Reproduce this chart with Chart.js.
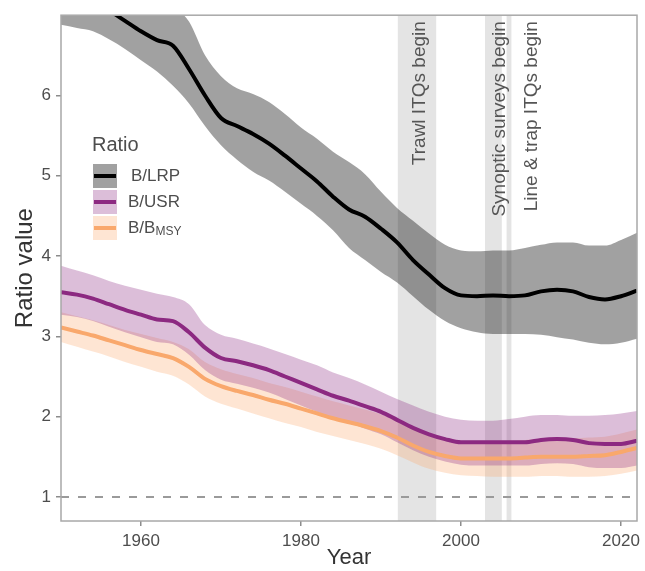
<!DOCTYPE html>
<html>
<head>
<meta charset="utf-8">
<title>Ratio value by year</title>
<script src="https://cdn.jsdelivr.net/npm/chart.js@4.4.1/dist/chart.umd.min.js"></script>
<style>
    html, body { margin: 0; padding: 0; background: #ffffff; }
    #wrap { width: 645px; height: 571px; }
</style>
</head>
<body>
<div id="wrap"><canvas id="ratio-chart" width="645" height="571"></canvas></div>
<script>
const years = [1950, 1952, 1954, 1956, 1958, 1960, 1962, 1964, 1966, 1968, 1970, 1972, 1974, 1976, 1978, 1980, 1982, 1984, 1986,
    1988, 1990, 1992, 1994, 1996, 1998, 2000, 2002, 2004, 2006, 2008, 2010, 2012, 2014, 2016, 2018, 2020, 2022];

// B/LRP
const lrpMid = [7.45, 7.30, 7.18, 7.06, 6.93, 6.80, 6.69, 6.62, 6.33, 6.00, 5.72, 5.62, 5.52, 5.40, 5.25, 5.09, 4.93, 4.74, 4.58,
    4.49, 4.34, 4.17, 3.95, 3.77, 3.60, 3.51, 3.50, 3.51, 3.50, 3.51, 3.56, 3.58, 3.56, 3.49, 3.46, 3.50, 3.57];
const lrpLow = [6.88, 6.84, 6.80, 6.70, 6.58, 6.44, 6.30, 6.12, 5.90, 5.62, 5.38, 5.20, 5.05, 4.94, 4.80, 4.65, 4.50, 4.32, 4.10,
    3.95, 3.80, 3.67, 3.50, 3.33, 3.19, 3.10, 3.05, 3.03, 3.03, 3.03, 3.02, 2.99, 2.96, 2.92, 2.90, 2.92, 2.97];
const lrpHigh = [7.90, 7.80, 7.70, 7.60, 7.50, 7.40, 7.30, 7.12, 6.92, 6.50, 6.24, 6.09, 6.02, 5.92, 5.77, 5.60, 5.46, 5.30, 5.17,
    5.02, 4.80, 4.60, 4.44, 4.28, 4.14, 4.07, 4.06, 4.07, 4.07, 4.10, 4.14, 4.17, 4.17, 4.13, 4.13, 4.20, 4.29];

// B/USR
const usrMid = [3.55, 3.52, 3.47, 3.40, 3.33, 3.27, 3.21, 3.19, 3.05, 2.86, 2.73, 2.69, 2.64, 2.58, 2.50, 2.42, 2.34, 2.26, 2.20,
    2.13, 2.06, 1.96, 1.86, 1.78, 1.72, 1.68, 1.68, 1.68, 1.68, 1.68, 1.71, 1.72, 1.71, 1.67, 1.66, 1.66, 1.70];
const usrLow = [3.27, 3.24, 3.19, 3.12, 3.05, 2.99, 2.93, 2.90, 2.77, 2.58, 2.46, 2.41, 2.36, 2.30, 2.22, 2.14, 2.06, 1.98, 1.92,
    1.85, 1.78, 1.68, 1.58, 1.50, 1.44, 1.40, 1.39, 1.39, 1.39, 1.39, 1.41, 1.42, 1.41, 1.37, 1.36, 1.36, 1.39];
const usrHigh = [3.88, 3.82, 3.76, 3.69, 3.63, 3.58, 3.53, 3.49, 3.40, 3.14, 3.02, 2.97, 2.91, 2.85, 2.78, 2.71, 2.64, 2.55, 2.48,
    2.40, 2.31, 2.22, 2.14, 2.06, 2.00, 1.96, 1.95, 1.95, 1.97, 2.00, 2.02, 2.02, 2.01, 2.01, 2.02, 2.04, 2.07];

// B/BMSY
const msyMid = [3.11, 3.06, 3.01, 2.95, 2.89, 2.83, 2.78, 2.73, 2.62, 2.47, 2.38, 2.32, 2.27, 2.21, 2.16, 2.10, 2.04, 1.98, 1.93,
    1.88, 1.82, 1.74, 1.64, 1.56, 1.51, 1.48, 1.48, 1.48, 1.48, 1.49, 1.50, 1.50, 1.50, 1.51, 1.52, 1.56, 1.61];
const msyLow = [2.93, 2.87, 2.81, 2.75, 2.68, 2.62, 2.56, 2.51, 2.40, 2.25, 2.16, 2.10, 2.04, 1.98, 1.92, 1.87, 1.81, 1.76, 1.71,
    1.66, 1.60, 1.52, 1.43, 1.35, 1.30, 1.27, 1.26, 1.25, 1.25, 1.25, 1.26, 1.26, 1.25, 1.25, 1.26, 1.29, 1.33];
const msyHigh = [3.30, 3.25, 3.20, 3.14, 3.08, 3.03, 2.98, 2.93, 2.84, 2.68, 2.59, 2.53, 2.48, 2.42, 2.37, 2.31, 2.25, 2.19, 2.14,
    2.09, 2.03, 1.95, 1.85, 1.78, 1.73, 1.70, 1.70, 1.70, 1.70, 1.71, 1.72, 1.72, 1.73, 1.74, 1.75, 1.79, 1.84];

// dashed reference at ratio = 1
const refYears = [1950, 2022];
const refValues = [1, 1];

// management events (shaded year ranges + labels)
const eventStart = [1992.1, 2003.0, 2005.7];
const eventEnd = [1996.9, 2005.1, 2006.3];
const eventLabelYear = [1994.8, 2004.8, 2008.8];
const eventLabels = ['Trawl ITQs begin', 'Synoptic surveys begin', 'Line & trap ITQs begin'];

const xTicks = [1960, 1980, 2000, 2020];
const yTicks = [1, 2, 3, 4, 5, 6];

const FONT = "'Liberation Sans', Arial, Helvetica, sans-serif";
Chart.defaults.font.family = FONT;

function toPoints(values) {
    return values.map(function (v, i) { return { x: years[i], y: v }; });
}

const series = [
    { name: 'lrp', mid: lrpMid, low: lrpLow, high: lrpHigh, line: '#000000', ribbon: 'rgba(0, 0, 0, 0.37)' },
    { name: 'usr', mid: usrMid, low: usrLow, high: usrHigh, line: '#8c2981', ribbon: 'rgba(140, 41, 129, 0.30)' },
    { name: 'msy', mid: msyMid, low: msyLow, high: msyHigh, line: '#f9a86c', ribbon: 'rgba(253, 170, 110, 0.30)' }
];

const datasets = [];
// ribbons first (filled between low and high)
series.forEach(function (s) {
    datasets.push({ label: s.name + ' low', data: toPoints(s.low), borderWidth: 0, pointRadius: 0, fill: false, clip: 0 });
    datasets.push({ label: s.name + ' high', data: toPoints(s.high), borderWidth: 0, pointRadius: 0, fill: '-1',
        backgroundColor: s.ribbon, clip: 0 });
});
datasets.push({
    label: 'ref',
    data: refYears.map(function (y, i) { return { x: y, y: refValues[i] }; }),
    borderColor: '#9a9a9a', borderWidth: 2, borderDash: [8, 9], pointRadius: 0, fill: false, clip: 0
});
// lines (msy, usr, lrp)
series.slice().reverse().forEach(function (s) {
    datasets.push({ label: s.name, data: toPoints(s.mid), borderColor: s.line, borderWidth: 4, pointRadius: 0,
        fill: false, clip: 0 });
});

const bandsPlugin = {
    id: 'bands',
    beforeDraw: function (chart) {
        const ctx = chart.ctx;
        const area = chart.chartArea;
        const x = chart.scales.x;
        ctx.save();
        ctx.fillStyle = '#e4e4e4';
        for (let i = 0; i < eventStart.length; i++) {
            const x0 = x.getPixelForValue(eventStart[i]);
            const x1 = x.getPixelForValue(eventEnd[i]);
            ctx.fillRect(x0, area.top, x1 - x0, area.bottom - area.top);
        }
        ctx.restore();
    },
    afterDraw: function (chart) {
        const ctx = chart.ctx;
        const area = chart.chartArea;
        const x = chart.scales.x;
        ctx.save();
        // event labels
        ctx.fillStyle = '#555555';
        ctx.font = '19px ' + FONT;
        ctx.textAlign = 'right';
        ctx.textBaseline = 'middle';
        for (let i = 0; i < eventLabels.length; i++) {
            ctx.save();
            ctx.translate(x.getPixelForValue(eventLabelYear[i]), area.top + 6);
            ctx.rotate(-Math.PI / 2);
            ctx.fillText(eventLabels[i], 0, 0);
            ctx.restore();
        }

        // legend
        ctx.textAlign = 'left';
        ctx.fillStyle = '#4d4d4d';
        ctx.font = '20px ' + FONT;
        ctx.fillText('Ratio', 92, 145);
        const keyTop = [164, 190, 216];
        for (let i = 0; i < series.length; i++) {
            ctx.fillStyle = series[i].ribbon;
            ctx.fillRect(93, keyTop[i], 24, 24);
            ctx.strokeStyle = series[i].line;
            ctx.lineWidth = 4;
            ctx.beginPath();
            ctx.moveTo(94, keyTop[i] + 12);
            ctx.lineTo(116, keyTop[i] + 12);
            ctx.stroke();
        }
        ctx.fillStyle = '#4d4d4d';
        ctx.font = '17px ' + FONT;
        ctx.fillText('B/LRP', 131, keyTop[0] + 12);
        ctx.fillText('B/USR', 128, keyTop[1] + 12);
        ctx.fillText('B/B', 128, keyTop[2] + 12);
        const w = ctx.measureText('B/B').width;
        ctx.font = '12px ' + FONT;
        ctx.fillText('MSY', 128 + w, keyTop[2] + 16);

        // panel border
        ctx.strokeStyle = '#a8a8a8';
        ctx.lineWidth = 1.5;
        ctx.strokeRect(area.left, area.top, area.right - area.left, area.bottom - area.top);
        ctx.restore();
    }
};

const ctxRatio = document.getElementById('ratio-chart').getContext('2d');
new Chart(ctxRatio, {
    type: 'line',
    data: { datasets: datasets },
    options: {
        responsive: false,
        animation: false,
        devicePixelRatio: 1,
        layout: { padding: { top: 8, right: 3, left: 0, bottom: 0 } },
        elements: { line: { cubicInterpolationMode: 'monotone' }, point: { radius: 0 } },
        plugins: {
            legend: { display: false },
            tooltip: { enabled: false },
            filler: { drawTime: 'beforeDatasetsDraw' }
        },
        scales: {
            x: {
                type: 'linear',
                min: 1950,
                max: 2022,
                afterBuildTicks: function (scale) { scale.ticks = xTicks.map(function (v) { return { value: v }; }); },
                afterFit: function (scale) { scale.height = 50; },
                grid: { drawOnChartArea: false, tickLength: 5, color: '#8c8c8c', lineWidth: 1.5 },
                border: { display: false },
                ticks: {
                    color: '#4d4d4d', font: { size: 17 }, padding: 5, maxRotation: 0,
                    callback: function (v) { return String(v); }
                },
                title: { display: true, text: 'Year', color: '#333333', font: { size: 22 }, padding: { top: 0, bottom: 0 } }
            },
            y: {
                type: 'linear',
                min: 0.7,
                max: 7.0,
                afterBuildTicks: function (scale) { scale.ticks = yTicks.map(function (v) { return { value: v }; }); },
                afterFit: function (scale) { scale.width = 61; },
                grid: { drawOnChartArea: false, tickLength: 5, color: '#8c8c8c', lineWidth: 1.5 },
                border: { display: false },
                ticks: { color: '#4d4d4d', font: { size: 17 }, padding: 5 },
                title: { display: true, text: 'Ratio value', color: '#333333', font: { size: 24 }, padding: { top: 11, bottom: 0 } }
            }
        }
    },
    plugins: [bandsPlugin]
});
</script>
</body>
</html>
